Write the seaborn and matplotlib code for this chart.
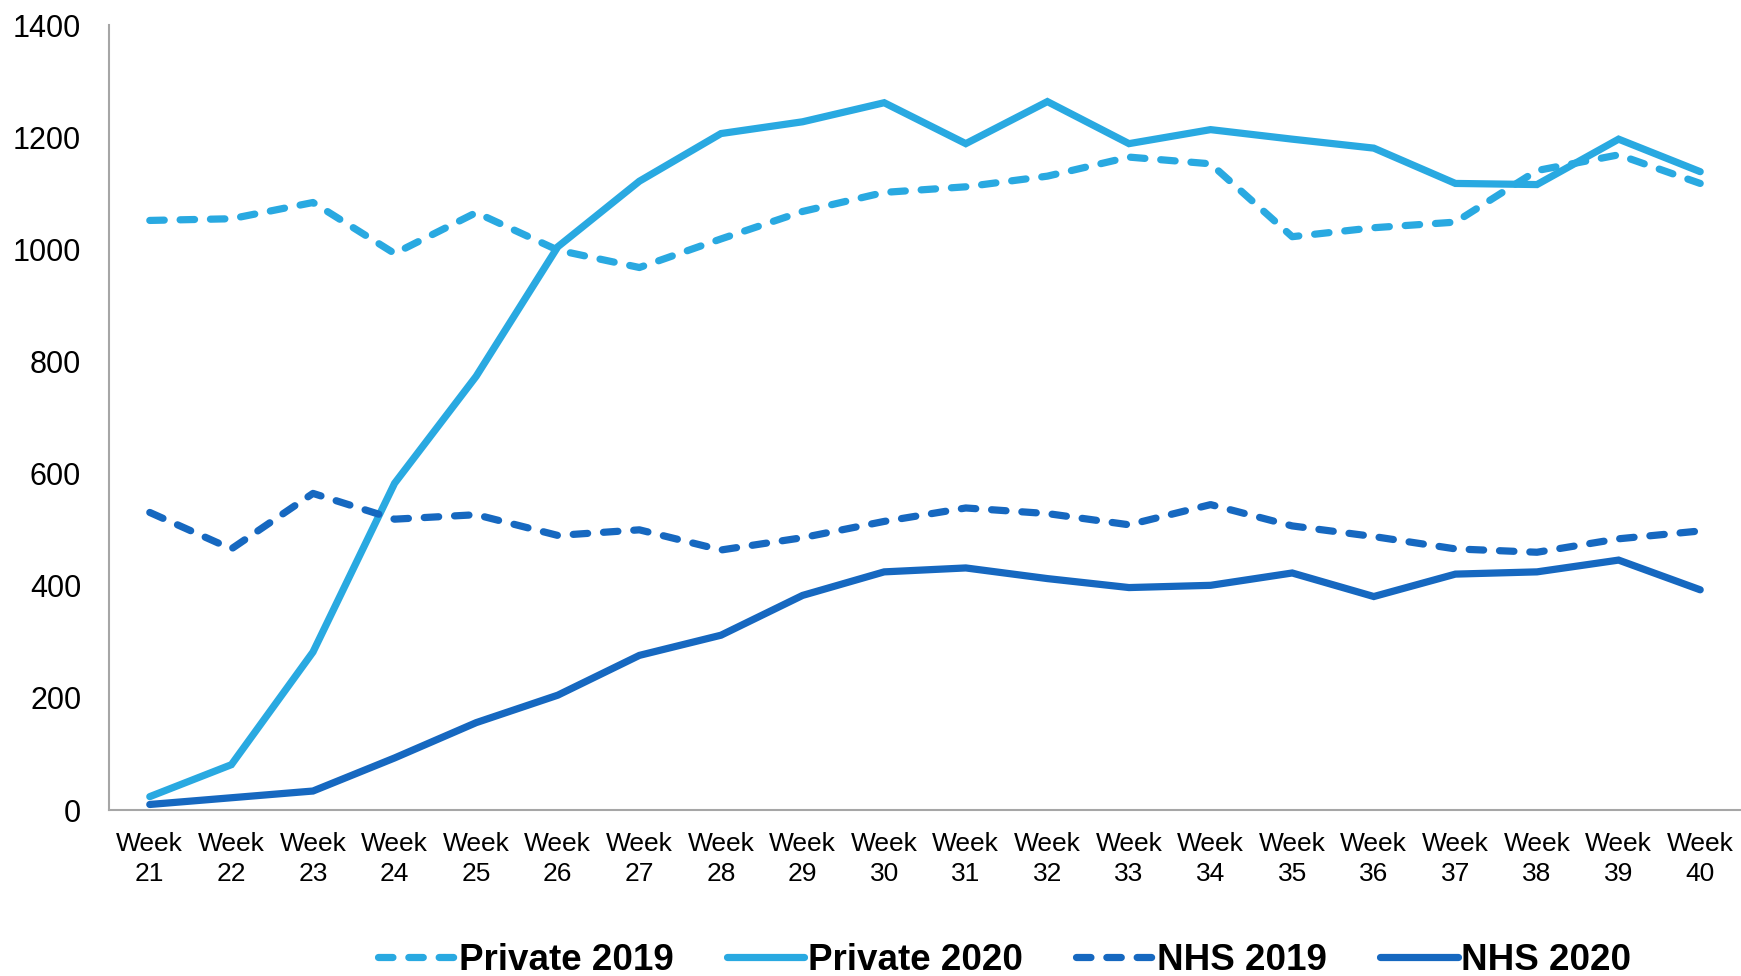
import matplotlib
matplotlib.use("Agg")
import matplotlib.pyplot as plt
import seaborn as sns
import pandas as pd
import numpy as np

weeks = list(range(21, 41))
week_labels = [f"Week\n{w}" for w in weeks]

private_2019 = [1052, 1055, 1084, 993, 1066, 999, 968, 1019, 1068, 1102,
                1112, 1131, 1165, 1153, 1023, 1039, 1049, 1141, 1169, 1118]
private_2020 = [24, 81, 282, 583, 774, 1005, 1122, 1207, 1228, 1262,
                1189, 1264, 1189, 1214, 1197, 1181, 1118, 1116, 1197, 1139]
nhs_2019 = [531, 466, 565, 519, 527, 490, 500, 464, 486, 515,
            539, 529, 509, 545, 507, 488, 466, 460, 484, 498]
nhs_2020 = [10, 22, 34, 93, 156, 205, 276, 312, 383, 425,
            432, 413, 397, 401, 423, 381, 421, 425, 446, 393]

series_names = ["Private 2019", "Private 2020", "NHS 2019", "NHS 2020"]
series_values = [private_2019, private_2020, nhs_2019, nhs_2020]

LIGHT = "#29A9E1"
DARK = "#1668C0"
palette = {"Private 2019": LIGHT, "Private 2020": LIGHT,
           "NHS 2019": DARK, "NHS 2020": DARK}
dash_styles = {"Private 2019": (2.0, 2.2), "Private 2020": "",
               "NHS 2019": (2.0, 2.2), "NHS 2020": ""}

rows = []
for name, vals in zip(series_names, series_values):
    for i, v in enumerate(vals):
        rows.append({"idx": i, "value": v, "series": name})
df = pd.DataFrame(rows)

sns.set_theme(style="white")
plt.rcParams["font.family"] = ["Liberation Sans", "DejaVu Sans"]
plt.rcParams["text.color"] = "black"
plt.rcParams["xtick.color"] = "black"
plt.rcParams["ytick.color"] = "black"
plt.rcParams["lines.dash_capstyle"] = "round"
plt.rcParams["lines.solid_capstyle"] = "round"
plt.rcParams["lines.solid_joinstyle"] = "miter"

fig = plt.figure(figsize=(17.41, 9.76), dpi=100)
ax = fig.add_axes([0.0626, 0.170, 0.9374, 0.804])

sns.lineplot(data=df, x="idx", y="value", hue="series", style="series",
             hue_order=series_names, style_order=series_names,
             palette=palette, dashes=dash_styles, linewidth=5.2,
             sort=False, ax=ax, legend=False)

ax.set_xlim(-0.5, len(weeks) - 0.5)
ax.set_ylim(0, 1400)
ax.set_yticks(np.arange(0, 1401, 200))
ax.set_xticks(range(len(weeks)))
ax.set_xticklabels(week_labels, fontsize=19, linespacing=1.3)
ax.tick_params(axis="y", labelsize=22, length=0, pad=20, labelcolor="black")
ax.tick_params(axis="x", length=0, pad=16, labelcolor="black")
ax.set_xlabel("")
ax.set_ylabel("")

for side in ["top", "right"]:
    ax.spines[side].set_visible(False)
for side in ["left", "bottom"]:
    ax.spines[side].set_color("#A6A6A6")
    ax.spines[side].set_linewidth(1.5)

handles = [ax.lines[i] for i in range(len(series_names))]
leg = fig.legend(handles, series_names, loc="center",
                 bbox_to_anchor=(0.577, 0.016), ncol=4, frameon=False,
                 prop={"size": 26.5, "weight": "bold"},
                 handlelength=2.1, handletextpad=0.1, columnspacing=1.45)
for t in leg.get_texts():
    t.set_color("black")

fig.savefig("out.png", dpi=100)
